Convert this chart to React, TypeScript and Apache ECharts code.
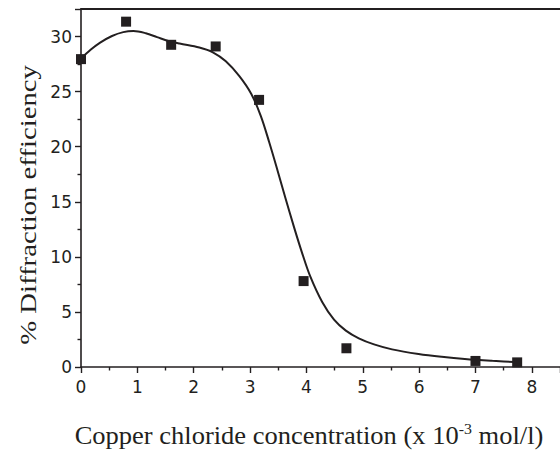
import React, { useEffect, useRef } from "react";
import * as echarts from "echarts";

const pointX = [0, 0.8, 1.6, 2.39, 3.16, 3.95, 4.71, 7.0, 7.74];
const pointY = [27.95, 31.35, 29.25, 29.1, 24.25, 7.8, 1.7, 0.55, 0.42];

const curveX = [0, 0.17, 0.34, 0.55, 0.75, 0.93, 1.15, 1.35, 1.55, 1.75, 2.1, 2.34, 2.57, 2.81, 3.02, 3.19, 3.34, 3.49, 3.63, 3.78, 3.93, 4.07, 4.28, 4.49, 4.7, 4.93, 5.2, 5.52, 5.99, 6.4, 6.81, 7.3, 7.81];
const curveY = [28.0, 28.8, 29.45, 30.05, 30.4, 30.5, 30.3, 29.95, 29.6, 29.36, 29.0, 28.57, 27.75, 26.4, 24.8, 22.8, 20.4, 17.8, 15.3, 12.7, 10.25, 8.2, 5.9, 4.3, 3.3, 2.6, 2.05, 1.6, 1.18, 0.92, 0.72, 0.56, 0.43];

const xTicks = [0, 1, 2, 3, 4, 5, 6, 7, 8];
const yTicks = [0, 5, 10, 15, 20, 25, 30];

const INK = "#231f20";
const SERIF = "'Liberation Serif', 'Times New Roman', serif";
const SANS = "'DejaVu Sans', 'Liberation Sans', Arial, sans-serif";

export default function App() {
  const ref = useRef<HTMLDivElement>(null);
  useEffect(() => {
    document.body.style.margin = "0";
    const chart = echarts.init(ref.current!, undefined, { renderer: "svg" });
    chart.setOption({
      animation: false,
      backgroundColor: "#ffffff",
      grid: { left: 81, right: -2, top: 9, bottom: 88, containLabel: false },
      xAxis: [
        {
          type: "value",
          min: 0,
          max: 8.5,
          interval: 1,
          axisLine: { show: true, lineStyle: { color: INK, width: 1.6 } },
          axisTick: { show: true, inside: false, length: 6, lineStyle: { color: INK, width: 1.4 } },
          minorTick: { show: true, splitNumber: 2, length: 3.5, lineStyle: { color: INK, width: 1.4 } },
          splitLine: { show: false },
          axisLabel: {
            show: true,
            margin: 11,
            color: INK,
            fontFamily: SANS,
            fontSize: 17,
            showMaxLabel: false,
            formatter: (v: number) => (xTicks.includes(v) ? String(v) : ""),
          },
        },
        {
          type: "value",
          position: "top",
          min: 0,
          max: 8.5,
          axisLine: { show: true, onZero: false, lineStyle: { color: INK, width: 1.8 } },
          axisTick: { show: false },
          axisLabel: { show: false },
          splitLine: { show: false },
        },
      ],
      yAxis: {
        type: "value",
        min: 0,
        max: 32.5,
        interval: 5,
        axisLine: { show: true, lineStyle: { color: INK, width: 1.6 } },
        axisTick: { show: true, inside: false, length: 6, lineStyle: { color: INK, width: 1.4 } },
        minorTick: { show: true, splitNumber: 2, length: 3.5, lineStyle: { color: INK, width: 1.4 } },
        splitLine: { show: false },
        axisLabel: {
          show: true,
          margin: 9,
          color: INK,
          fontFamily: SANS,
          fontSize: 17,
          showMaxLabel: false,
          formatter: (v: number) => (yTicks.includes(v) ? String(v) : ""),
        },
      },
      graphic: [
        {
          type: "text",
          x: 28,
          y: 205,
          rotation: Math.PI / 2,
          scaleX: 1.25,
          style: {
            text: "% Diffraction efficiency",
            font: "23px " + SERIF,
            fill: INK,
            align: "center",
            verticalAlign: "middle",
          },
        },
        {
          type: "text",
          x: 309,
          y: 436,
          scaleX: 1.06,
          style: {
            text: "{a|Copper chloride concentration (x 10}{s|-3}{a| mol/l)}",
            rich: {
              a: { font: "25px " + SERIF, fill: INK, color: INK },
              s: { font: "15px " + SERIF, fill: INK, color: INK, verticalAlign: "top", padding: [0, 0, 14, 0] },
            },
            align: "center",
            verticalAlign: "middle",
          },
        },
      ],
      series: [
        {
          type: "line",
          data: curveX.map((x, i) => [x, curveY[i]]),
          smooth: 0.35,
          showSymbol: false,
          symbol: "none",
          lineStyle: { color: INK, width: 2 },
          z: 2,
        },
        {
          type: "scatter",
          data: pointX.map((x, i) => [x, pointY[i]]),
          symbol: "rect",
          symbolSize: 10,
          itemStyle: { color: INK, opacity: 1 },
          z: 3,
        },
      ],
    });
    return () => chart.dispose();
  }, []);
  return <div ref={ref} style={{ width: 560, height: 455 }} />;
}
